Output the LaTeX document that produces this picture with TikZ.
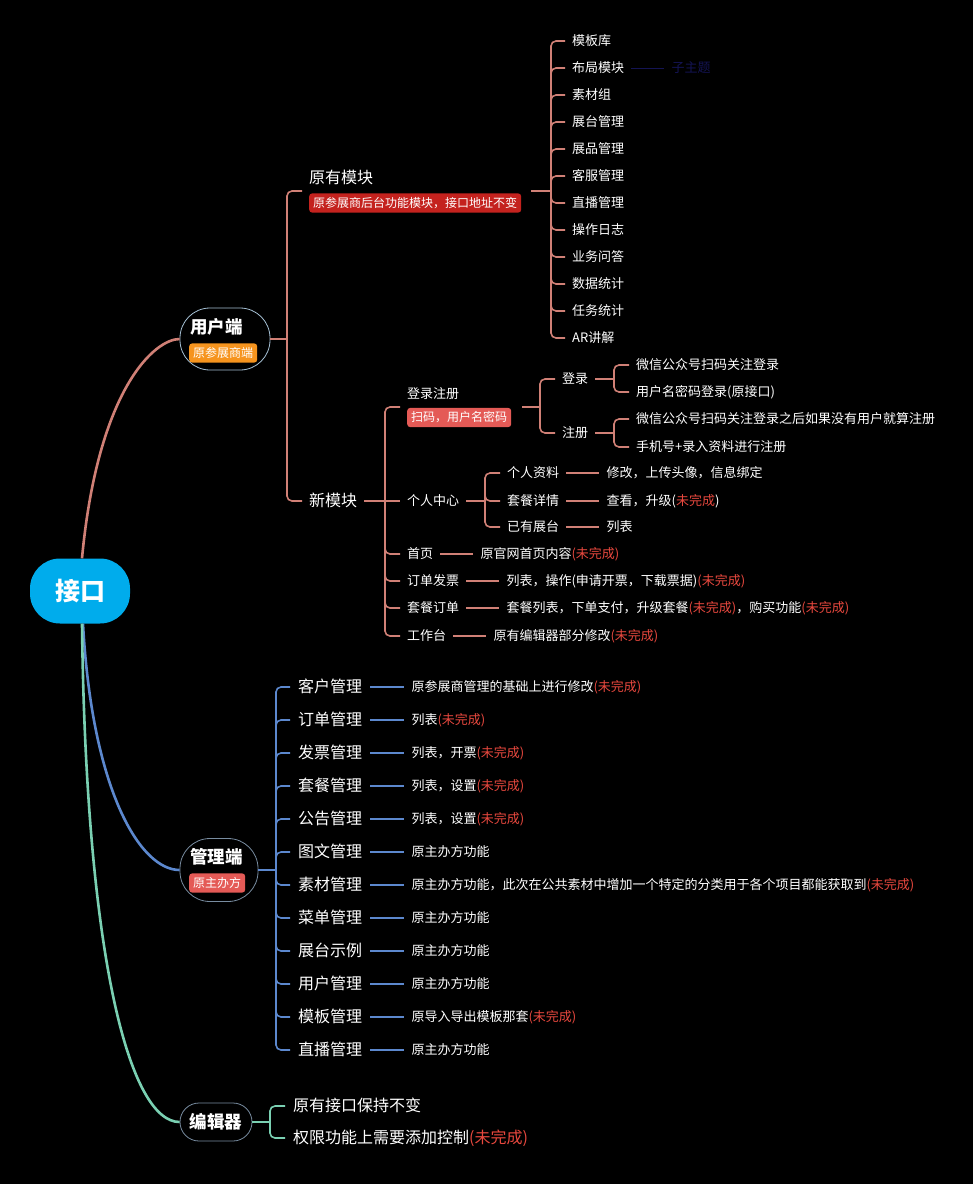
\documentclass[tikz,border=0pt]{standalone}
\usepackage{fontspec}
\newfontfamily\cjk{Noto Sans CJK SC}
\usetikzlibrary{positioning}

\definecolor{rootblue}{RGB}{0,172,236}
\definecolor{userline}{RGB}{208,128,118}
\definecolor{adminline}{RGB}{92,136,206}
\definecolor{editline}{RGB}{122,208,178}
\definecolor{tagdark}{RGB}{196,34,30}
\definecolor{tagred}{RGB}{228,90,86}
\definecolor{tagorange}{RGB}{246,148,30}
\definecolor{undone}{RGB}{232,72,62}
\definecolor{ghost}{RGB}{20,20,84}
\definecolor{rimuser}{RGB}{165,192,212}
\definecolor{rimgray}{RGB}{120,140,160}

\newcommand{\notdone}{\textcolor{undone}{(未完成)}}

\tikzset{
  root/.style={fill=rootblue, text=white, rounded corners=30pt, minimum width=100pt,
    minimum height=65pt, font=\cjk\bfseries\fontsize{25}{28}\selectfont},
  topic/.style={draw, line width=0.8pt, rounded corners=30pt},
  title/.style={anchor=west, inner xsep=4pt, inner ysep=0pt, text=white,
    font=\cjk\bfseries\fontsize{17.5}{20}\selectfont},
  tag/.style={anchor=west, rounded corners=3pt, inner xsep=4pt, inner ysep=3.8pt, text=white,
    font=\cjk\fontsize{12}{14}\selectfont, text height=10.2pt, text depth=1.4pt},
  leaf/.style={anchor=west, inner xsep=7pt, inner ysep=0pt, text=white,
    font=\cjk\fontsize{13}{15}\selectfont, text height=11pt, text depth=1.5pt},
  midleaf/.style={anchor=west, inner xsep=8pt, inner ysep=0pt, text=white,
    font=\cjk\fontsize{16}{18}\selectfont, text height=13.5pt, text depth=1.8pt},
  ucurve/.style={draw=userline, line width=2.6pt},
  acurve/.style={draw=adminline, line width=2.6pt},
  ecurve/.style={draw=editline, line width=2.6pt},
  ubranch/.style={draw=userline, line width=1.6pt},
  abranch/.style={draw=adminline, line width=1.6pt},
  ebranch/.style={draw=editline, line width=1.6pt},
}

\begin{document}
\begin{tikzpicture}[x=1pt,y=-1pt]
% page
\fill[black] (0,0) rectangle (973,1184);
\useasboundingbox (0,0) rectangle (973,1184);

% centre topic
\node[root] (root) at (80,591) {接口};

% main topics
\node[topic, draw=rimuser, minimum width=90pt, minimum height=62pt] (user) at (225,339) {};
\node[title] (usertitle) at (186,327) {用户端};
\node[tag, fill=tagorange] (usertag) at (189,353) {原参展商端};

\node[topic, draw=rimgray, minimum width=78pt, minimum height=63pt] (admin) at (219,870) {};
\node[title] (admintitle) at (186,857) {管理端};
\node[tag, fill=tagred] (admintag) at (189,883) {原主办方};

\node[topic, draw=rimgray, minimum width=72pt, minimum height=38pt, rounded corners=19pt] (editor) at (216,1122) {};
\node[title, anchor=center] (editortitle) at (editor.center) {编辑器};

\draw[ucurve] ([xshift=2pt]root.north) .. controls (98,388) and (155,339) .. (user.west);
\draw[acurve] ([xshift=3pt]root.south) .. controls (92,790) and (140,870) .. (admin.west);
\draw[ecurve] ([xshift=2pt]root.south) .. controls (86,960) and (130,1122) .. (editor.west);

% user side
\coordinate (ub) at (287,339);
\draw[ubranch] (user.east) -- (ub);
\node[midleaf, inner xsep=7pt] (orig) at (302,178) {原有模块};
\node[tag, fill=tagdark] (origtag) at (309,203) {原参展商后台功能模块，接口地址不变};
\coordinate (orig-in) at (302,191);
\node[midleaf, inner xsep=7pt] (new) at (302,501) {新模块};
\draw[ubranch, rounded corners=5pt] (ub) |- (orig-in);
\draw[ubranch, rounded corners=5pt] (ub) |- (new.west);

\coordinate (orig-out) at (531,191);
\coordinate (ob) at (551,191);
\draw[ubranch] (orig-out) -- (ob);
\foreach \n/\t [count=\i] in {tpllib/模板库, layout/布局模块, material/素材组, boothmgr/展台管理,
    exhibit/展品管理, service/客服管理, live/直播管理, oplog/操作日志, qa/业务问答,
    stats/数据统计, task/任务统计, ar/AR讲解}{
  \node[leaf] (\n) at (565,14+27*\i) {\t};
  \draw[ubranch, rounded corners=5pt] (ob) |- (\n.west);
}
\node[leaf, text=ghost, right=33pt of layout] (subtopic) {子主题};
\draw[ghost, line width=1pt] (layout.east) -- (subtopic.west);

% new module
\coordinate (nb) at (385,501);
\draw[ubranch] (new.east) -- (nb);
\node[leaf] (signup) at (400,394) {登录注册};
\node[tag, fill=tagred] (signuptag) at (407,417.5) {扫码，用户名密码};
\coordinate (signup-in) at (400,407);
\draw[ubranch, rounded corners=5pt] (nb) |- (signup-in);
\node[leaf] (center) at (400,501) {个人中心};
\draw[ubranch] (nb) -- (center.west);
\foreach \n/\t/\y in {home/首页/554, bill/订单发票/581, pkgorder/套餐订单/608, desk/工作台/636}{
  \node[leaf] (\n) at (400,\y) {\t};
  \draw[ubranch, rounded corners=5pt] (nb) |- (\n.west);
}

\coordinate (signup-out) at (522,407);
\coordinate (sb) at (540,407);
\draw[ubranch] (signup-out) -- (sb);
\node[leaf] (login) at (555,379) {登录};
\node[leaf] (register) at (555,433) {注册};
\draw[ubranch, rounded corners=5pt] (sb) |- (login.west);
\draw[ubranch, rounded corners=5pt] (sb) |- (register.west);

\coordinate (lb) at (614,379);
\draw[ubranch] (login.east) -- (lb);
\node[leaf] (wxlogin) at (629,365) {微信公众号扫码关注登录};
\node[leaf] (pwdlogin) at (629,392) {用户名密码登录(原接口)};
\draw[ubranch, rounded corners=5pt] (lb) |- (wxlogin.west);
\draw[ubranch, rounded corners=5pt] (lb) |- (pwdlogin.west);

\coordinate (rb) at (614,433);
\draw[ubranch] (register.east) -- (rb);
\node[leaf] (wxreg) at (629,419) {微信公众号扫码关注登录之后如果没有用户就算注册};
\node[leaf] (phonereg) at (629,447) {手机号+录入资料进行注册};
\draw[ubranch, rounded corners=5pt] (rb) |- (wxreg.west);
\draw[ubranch, rounded corners=5pt] (rb) |- (phonereg.west);

\coordinate (cb) at (485,501);
\draw[ubranch] (center.east) -- (cb);
\foreach \n/\t/\d/\y in {profile/个人资料/{修改，上传头像，信息绑定}/473,
    pkgdetail/套餐详情/{查看，升级(\textcolor{undone}{未完成})}/501, booths/已有展台/列表/527}{
  \node[leaf] (\n) at (500,\y) {\t};
  \node[leaf, right=33pt of \n] (\n-d) {\d};
  \draw[ubranch, rounded corners=5pt] (cb) |- (\n.west);
  \draw[ubranch] (\n.east) -- (\n-d.west);
}

\foreach \n/\d in {home/{原官网首页内容\notdone}, bill/{列表，操作(申请开票，下载票据)\notdone},
    pkgorder/{套餐列表，下单支付，升级套餐\notdone，购买功能\notdone}, desk/{原有编辑器部分修改\notdone}}{
  \node[leaf, right=33pt of \n] (\n-d) {\d};
  \draw[ubranch] (\n.east) -- (\n-d.west);
}

% admin side
\coordinate (ab) at (276,870);
\draw[abranch] (admin.east) -- (ab);
\foreach \n/\t/\d [count=\i] in {customer/客户管理/{原参展商管理的基础上进行修改\notdone},
    order/订单管理/{列表\notdone}, invoice/发票管理/{列表，开票\notdone},
    plan/套餐管理/{列表，设置\notdone}, notice/公告管理/{列表，设置\notdone},
    article/图文管理/原主办方功能,
    asset/素材管理/{原主办方功能，此次在公共素材中增加一个特定的分类用于各个项目都能获取到\notdone},
    menu/菜单管理/原主办方功能, sample/展台示例/原主办方功能, account/用户管理/原主办方功能,
    template/模板管理/{原导入导出模板那套\notdone}, stream/直播管理/原主办方功能}{
  \node[midleaf] (\n) at (290,654+33*\i) {\t};
  \node[leaf, right=34pt of \n] (\n-d) {\d};
  \draw[abranch, rounded corners=5pt] (ab) |- (\n.west);
  \draw[abranch] (\n.east) -- (\n-d.west);
}

% editor side
\coordinate (eb) at (270,1122);
\draw[ebranch] (editor.east) -- (eb);
\node[midleaf] (keep) at (285,1106) {原有接口保持不变};
\node[midleaf] (perm) at (285,1138) {权限功能上需要添加控制\notdone};
\draw[ebranch, rounded corners=5pt] (eb) |- (keep.west);
\draw[ebranch, rounded corners=5pt] (eb) |- (perm.west);
\end{tikzpicture}
\end{document}
